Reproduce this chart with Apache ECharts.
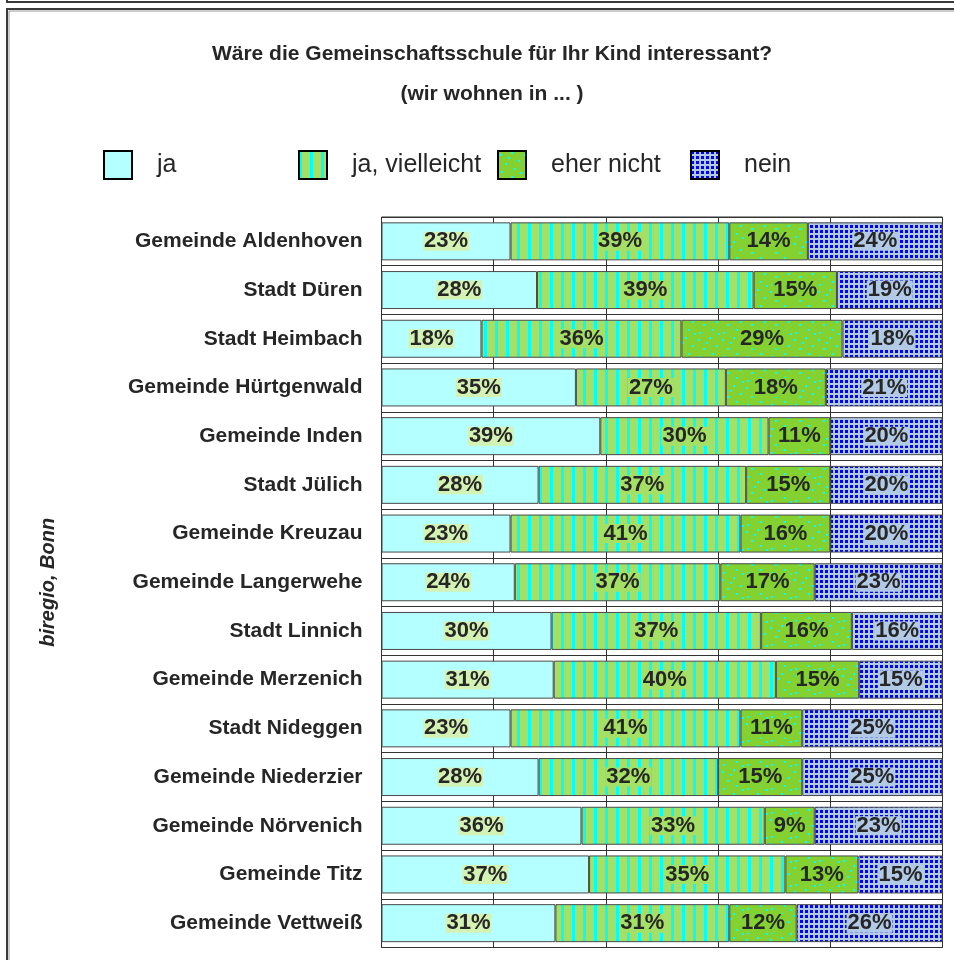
<!DOCTYPE html>
<html>
<head>
<meta charset="utf-8">
<script src="https://cdn.jsdelivr.net/npm/echarts@6/dist/echarts.min.js"></script>
<style>
  html, body { margin: 0; padding: 0; background: #ffffff; }
  #chart { width: 954px; height: 960px; }
</style>
</head>
<body>
<div id="chart"></div>
<script>
// ---------- data ----------
var categories = ['Gemeinde Aldenhoven', 'Stadt Düren', 'Stadt Heimbach', 'Gemeinde Hürtgenwald',
  'Gemeinde Inden', 'Stadt Jülich', 'Gemeinde Kreuzau', 'Gemeinde Langerwehe', 'Stadt Linnich',
  'Gemeinde Merzenich', 'Stadt Nideggen', 'Gemeinde Niederzier', 'Gemeinde Nörvenich',
  'Gemeinde Titz', 'Gemeinde Vettweiß'];
var seriesNames = ['ja', 'ja, vielleicht', 'eher nicht', 'nein'];
var ja         = [23, 28, 18, 35, 39, 28, 23, 24, 30, 31, 23, 28, 36, 37, 31];
var jaVielleicht = [39, 39, 36, 27, 30, 37, 41, 37, 37, 40, 41, 32, 33, 35, 31];
var eherNicht  = [14, 15, 29, 18, 11, 15, 16, 17, 16, 15, 11, 15, 9, 13, 12];
var nein       = [24, 19, 18, 21, 20, 20, 20, 23, 16, 15, 25, 25, 23, 15, 26];
var titleText = 'Wäre die Gemeinschaftsschule für Ihr Kind interessant?';
var subTitleText = '(wir wohnen in ... )';
var sideText = 'biregio, Bonn';

// ---------- patterns (styling only) ----------
function makeTile(w, h, base, draw) {
  var c = document.createElement('canvas');
  c.width = w; c.height = h;
  var ctx = c.getContext('2d');
  ctx.fillStyle = base; ctx.fillRect(0, 0, w, h);
  draw(ctx);
  return { image: c, repeat: 'repeat' };
}
var FONT = 'Liberation Sans, Arial, sans-serif';
var colJa = '#b4ffff';
var baseViel = '#a4e066';
var baseEher = '#84d232';
var baseNein = '#b2cae6';
var patViel = makeTile(11, 8, baseViel, function (ctx) {
  ctx.fillStyle = '#00ffff'; ctx.fillRect(0, 0, 3, 8);
});
var patEher = makeTile(24, 24, baseEher, function (ctx) {
  ctx.fillStyle = '#00ffff';
  var pts = [[2, 3], [13, 1], [20, 9], [7, 12], [16, 17], [3, 20], [10, 6], [22, 21]];
  pts.forEach(function (p) { ctx.fillRect(p[0], p[1], 2, 2); });
});
var patNein = makeTile(10, 10, baseNein, function (ctx) {
  ctx.fillStyle = '#0000ff';
  [[0, 0], [5, 0], [0, 5], [5, 5]].forEach(function (p) { ctx.fillRect(p[0], p[1], 3, 3); });
});

var raw = [ja, jaVielleicht, eherNicht, nein];
var fills = [colJa, patViel, patEher, patNein];
var labelBg = ['#d4f2b4', baseViel, baseEher, baseNein];

var totals = categories.map(function (_, i) {
  return ja[i] + jaVielleicht[i] + eherNicht[i] + nein[i];
});

var series = raw.map(function (arr, s) {
  return {
    name: seriesNames[s],
    type: 'bar',
    stack: 'total',
    barWidth: 38,
    itemStyle: { color: fills[s], borderColor: '#4a4a4a', borderWidth: 1 },
    label: {
      show: true,
      position: 'inside',
      formatter: function (p) { return arr[p.dataIndex] + '%'; },
      fontFamily: FONT,
      fontSize: 22,
      fontWeight: 'bold',
      color: '#262626',
      backgroundColor: labelBg[s],
      padding: [0, 1],
      lineHeight: 19
    },
    emphasis: { disabled: true },
    data: arr.map(function (v, i) { return v / totals[i] * 100; })
  };
});

var legendLefts = [103, 298, 497, 690];
var legends = seriesNames.map(function (n, i) {
  return {
    data: [n],
    left: legendLefts[i],
    top: 150,
    padding: 0,
    itemWidth: 28,
    itemHeight: 28,
    icon: 'rect',
    itemStyle: { borderColor: '#000', borderWidth: 2 },
    textStyle: {
      fontFamily: FONT,
      fontSize: 25,
      color: '#262626',
      padding: [0, 0, 0, 20]
    },
    selectedMode: false
  };
});

var chart = echarts.init(document.getElementById('chart'), null, { renderer: 'canvas' });
chart.setOption({
  backgroundColor: '#ffffff',
  animation: false,
  title: [
    { text: titleText, left: 487, top: 39, textAlign: 'center',
      textStyle: { fontFamily: FONT, fontSize: 21, fontWeight: 'bold', color: '#262626' } },
    { text: subTitleText, left: 487, top: 79, textAlign: 'center',
      textStyle: { fontFamily: FONT, fontSize: 21, fontWeight: 'bold', color: '#262626' } }
  ],
  legend: legends,
  grid: {
    left: 381.5, right: 11.5, top: 217, bottom: 12.5,
    show: true, borderColor: '#333', borderWidth: 1, backgroundColor: 'transparent',
    containLabel: false
  },
  xAxis: {
    type: 'value', min: 0, max: 100, interval: 20,
    axisLabel: { show: false }, axisTick: { show: false }, axisLine: { show: false },
    splitLine: { show: true, lineStyle: { color: '#333', width: 1 } }
  },
  yAxis: {
    type: 'category', inverse: true, data: categories,
    axisTick: { show: false }, axisLine: { show: false },
    splitLine: { show: true, interval: 0, lineStyle: { color: '#333', width: 1 } },
    axisLabel: {
      margin: 19, interval: 0,
      fontFamily: FONT, fontSize: 21, fontWeight: 'bold', color: '#262626'
    },
    name: sideText, nameLocation: 'middle', nameRotate: 90, nameGap: 323,
    nameTextStyle: {
      fontFamily: FONT, fontSize: 20, fontWeight: 'bold',
      fontStyle: 'italic', color: '#262626'
    }
  },
  graphic: [
    { type: 'rect', shape: { x: 7, y: -30, width: 1000, height: 32 },
      style: { fill: 'none', stroke: '#3a3a3a', lineWidth: 2 }, silent: true },
    { type: 'rect', shape: { x: 7, y: 9, width: 1000, height: 1000 },
      style: { fill: 'none', stroke: '#3a3a3a', lineWidth: 2 }, silent: true },
    { type: 'rect', shape: { x: 9, y: 11, width: 1000, height: 1000 },
      style: { fill: 'none', stroke: '#9a9a9a', lineWidth: 1 }, silent: true }
  ],
  series: series
});
</script>
</body>
</html>
